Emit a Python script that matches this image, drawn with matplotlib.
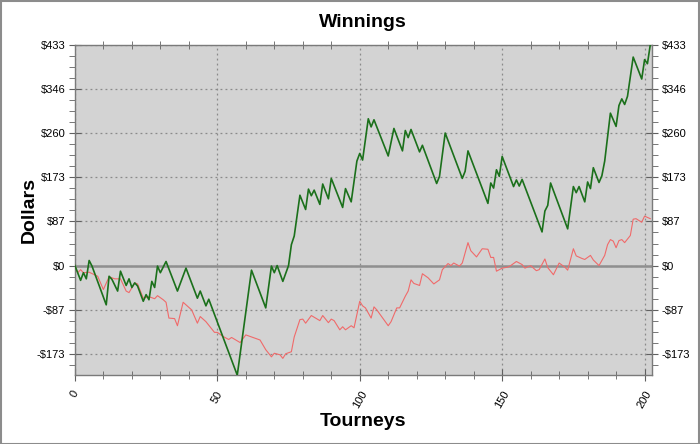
import numpy as np
import matplotlib
matplotlib.use("Agg")
import matplotlib.pyplot as plt
from matplotlib.ticker import FixedLocator, MultipleLocator, FuncFormatter
from matplotlib.patches import Rectangle

plt.rcParams["font.family"] = ["Liberation Sans", "DejaVu Sans"]

win_x = [0, 2, 3, 4, 5, 6, 11, 12, 13, 15, 16, 18, 19, 20, 21, 22, 24, 25, 26, 27,
         28, 29, 30, 32, 36, 39, 43, 44, 46, 47, 57, 62, 67, 69, 70, 71, 73, 75, 76, 77,
         79, 81, 82, 83, 84, 86, 87, 89, 90, 94, 95, 97, 99, 100, 101, 103, 104, 105, 110, 112,
         115, 116, 117, 118, 121, 122, 127, 128, 130, 136, 137, 138, 145, 146, 147, 148, 149, 150, 154, 155,
         156, 157, 164, 165, 166, 167, 173, 175, 176, 177, 179, 180, 181, 182, 184, 185, 186, 188, 190, 191,
         192, 193, 194, 196, 199, 200, 201, 202]
win_y = [0, -29, -14, -26, 10, -1, -77, -21, -27, -50, -11, -39, -26, -43, -34, -40, -70, -57, -67, -31,
         -43, -1, -14, 8, -50, -5, -64, -50, -79, -66, -215, -9, -83, -1, -14, 0, -31, 0, 41, 58,
         138, 110, 150, 137, 148, 120, 160, 131, 171, 114, 151, 125, 205, 220, 207, 288, 272, 286, 215, 269,
         225, 265, 251, 267, 223, 236, 161, 175, 260, 171, 185, 225, 122, 162, 152, 188, 175, 214, 155, 168,
         156, 169, 66, 107, 118, 162, 72, 155, 143, 155, 125, 164, 151, 192, 163, 176, 205, 299, 273, 314,
         327, 316, 332, 409, 366, 404, 396, 433]

# red line: second series (vertices)
ev_x = [0, 1, 2, 3, 5, 8, 10, 12, 14, 16, 18, 19, 21, 22, 24, 26, 28, 29, 31, 32,
        33, 35, 36, 38, 41, 43, 44, 46, 49, 50, 52, 54, 55, 58, 60, 62, 65, 67, 69, 70,
        72, 73, 74, 76, 77, 79, 80, 81, 83, 86, 87, 89, 90, 91, 93, 94, 95, 97, 98, 100,
        101, 102, 104, 105, 106, 110, 111, 113, 114, 116, 117, 118, 119, 121, 122, 124, 126, 128, 129, 131,
        132, 133, 135, 136, 138, 139, 141, 143, 145, 146, 147, 148, 149, 150, 152, 153, 155, 157, 158, 160,
        162, 163, 165, 166, 168, 170, 172, 173, 175, 176, 178, 179, 181, 182, 184, 186, 187, 188, 189, 190,
        191, 192, 193, 195, 196, 197, 199, 200, 202]
ev_y = [0, -14, -8, -14, -13, -21, -47, -22, -26, -26, -50, -53, -34, -36, -64, -61, -65, -59, -67, -72,
        -103, -104, -118, -72, -87, -113, -100, -110, -131, -131, -139, -145, -141, -151, -136, -140, -146, -165, -179, -172,
        -175, -182, -173, -169, -140, -106, -105, -113, -98, -108, -98, -112, -105, -108, -126, -120, -126, -118, -122, -70,
        -79, -83, -103, -81, -87, -118, -110, -83, -83, -60, -50, -28, -35, -39, -16, -24, -36, -28, -8, 4,
        0, 5, -1, 5, 45, 29, 17, 33, 32, 16, 16, -11, -8, -5, -3, 0, 8, 2, -5, 0,
        -10, -8, 13, -4, -18, 5, -3, -9, 33, 19, 14, 12, 20, 11, 0, 20, 41, 51, 48, 35,
        49, 51, 45, 59, 91, 92, 85, 97, 92]

x_ticks = [0, 50, 100, 150, 200]

top = max(win_y)
bottom = min(win_y)
y_ticks = [top * k / 5 for k in range(-2, 6)]


def dollars(v, pos=None):
    v = int(round(v))
    return f"-${-v}" if v < 0 else f"${v}"


fig = plt.figure(figsize=(7, 4.44), dpi=100)
fig.patch.set_facecolor("white")
fig.patches.append(Rectangle((0.001, 0.001), 0.998, 0.997, transform=fig.transFigure,
                             fill=False, edgecolor="#8c8c8c", linewidth=1.5))

ax = fig.add_axes([0.107, 0.155, 0.824, 0.744])
ax.set_facecolor("#d3d3d3")

ax.axhline(0, color="#8f8f8f", linewidth=1.8, zorder=1)
ax.plot(ev_x, ev_y, color="#f06a6a", linewidth=0.8, zorder=3)
ax.plot(win_x, win_y, color="#1b701b", linewidth=1.2, zorder=4)

ax.set_xlim(0, 202.5)
ax.set_ylim(bottom, top)

ax.xaxis.set_major_locator(FixedLocator(x_ticks))
ax.xaxis.set_minor_locator(MultipleLocator(10))
ax.yaxis.set_major_locator(FixedLocator(y_ticks))
ax.yaxis.set_minor_locator(MultipleLocator(top / 20))
ax.yaxis.set_major_formatter(FuncFormatter(dollars))

ax.grid(True, which="major", color="#8a8a8a", linestyle=(0, (1.5, 2.5)), linewidth=0.9)
ax.set_axisbelow(True)

for s in ax.spines.values():
    s.set_color("#7a7a7a")
    s.set_linewidth(1.0)

ax.tick_params(axis="y", which="major", direction="inout", length=8, color="#606060",
               labelsize=8, left=True, right=True, labelleft=True, labelright=True, pad=3)
ax.tick_params(axis="y", which="minor", direction="out", length=4, color="#606060",
               left=True, right=True)
ax.tick_params(axis="x", which="major", direction="inout", length=8, color="#606060",
               labelsize=8, top=False, pad=6)
ax.tick_params(axis="x", which="minor", direction="inout", length=6, color="#606060",
               top=True, bottom=True)
for lbl in ax.get_xticklabels():
    lbl.set_rotation(60)

ax.set_title("Winnings", fontsize=14, fontweight="bold", pad=13)
ax.set_xlabel("Tourneys", fontsize=14, fontweight="bold", labelpad=2)
ax.set_ylabel("Dollars", fontsize=14, fontweight="bold", labelpad=-1)

fig.savefig("out.png", dpi=100)
